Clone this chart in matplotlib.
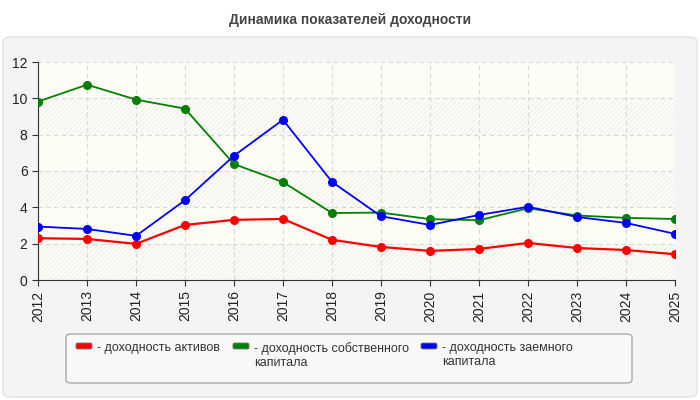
import matplotlib
matplotlib.use('Agg')
import matplotlib.pyplot as plt
from matplotlib.patches import FancyBboxPatch

plt.rcParams['font.family'] = ['Liberation Sans', 'DejaVu Sans']
plt.rcParams['hatch.linewidth'] = 0.5

# данные
years = list(range(2012, 2026))
roa = [2.30, 2.26, 1.99, 3.03, 3.31, 3.36, 2.21, 1.82, 1.60, 1.71, 2.04, 1.76, 1.65, 1.42]
roe = [9.82, 10.75, 9.93, 9.43, 6.38, 5.39, 3.69, 3.71, 3.35, 3.29, 3.95, 3.55, 3.42, 3.36]
rod = [2.94, 2.81, 2.43, 4.39, 6.84, 8.82, 5.40, 3.51, 3.03, 3.58, 4.03, 3.47, 3.14, 2.54]
labels = ['- доходность активов', '- доходность собственного\nкапитала', '- доходность заемного\nкапитала']
colors = ['#ff0000', '#008000', '#0000ff']

fig = plt.figure(figsize=(7, 4), dpi=100)
fig.patch.set_facecolor('white')

# серая подложка
panel = FancyBboxPatch((3 / 700, 3 / 400), 694 / 700, 360 / 400,
                       boxstyle='round,pad=0,rounding_size=0.012',
                       transform=fig.transFigure, facecolor='#f4f4f4',
                       edgecolor='#e2e2e2', linewidth=1, zorder=-5)
fig.patches.append(panel)

fig.text(0.5, 0.95, 'Динамика показателей доходности', ha='center', va='center',
         fontsize=10, fontweight='bold', color='#444444',
         family=['Liberation Sans Narrow', 'Liberation Sans', 'DejaVu Sans'])

ax = fig.add_axes([38 / 700, 120 / 400, 637 / 700, 218 / 400])
ax.set_facecolor('#fdfdf6')
for lo in (0, 4, 8):
    ax.axhspan(lo, lo + 2, facecolor='none', edgecolor='#e8e8e8', hatch='///////', linewidth=0, zorder=0)

for vals, c in zip([roa, roe, rod], colors):
    lw = 1.6 if c == '#ff0000' else 1.3
    ax.plot(years, vals, color=c, linewidth=lw, marker='o', markersize=5.5, zorder=3)

ax.set_xlim(2012, 2025)
ax.set_ylim(0, 12)
ax.set_xticks(years)
ax.set_xticklabels([str(y) for y in years], rotation=90)
ax.set_yticks(range(0, 13, 2))
ax.grid(True, color='#d8d8d8', linestyle=(0, (4, 3)), linewidth=0.8)
ax.set_axisbelow(True)
for s in ('top', 'right'):
    ax.spines[s].set_visible(False)
for s in ('left', 'bottom'):
    ax.spines[s].set_color('#333333')
ax.tick_params(axis='both', colors='#333333', labelsize=10, length=4, labelcolor='#222222')

# легенда
leg = FancyBboxPatch((66 / 700, 17 / 400), 566 / 700, 49 / 400,
                     boxstyle='round,pad=0,rounding_size=0.008',
                     transform=fig.transFigure, facecolor='#f8f8f8',
                     edgecolor='#aaaaaa', linewidth=1)
fig.patches.append(leg)
xs = [76, 233, 421]
for x, c, t in zip(xs, colors, labels):
    fig.patches.append(FancyBboxPatch((x / 700, 51 / 400), 16 / 700, 6 / 400,
                                      boxstyle='round,pad=0,rounding_size=0.003',
                                      transform=fig.transFigure, facecolor=c,
                                      edgecolor='#777777', linewidth=0.6))
    fig.text((x + 21) / 700, 58 / 400, t, ha='left', va='top', fontsize=9,
             color='#333333', linespacing=1.2)

fig.savefig('out.png', dpi=100)
